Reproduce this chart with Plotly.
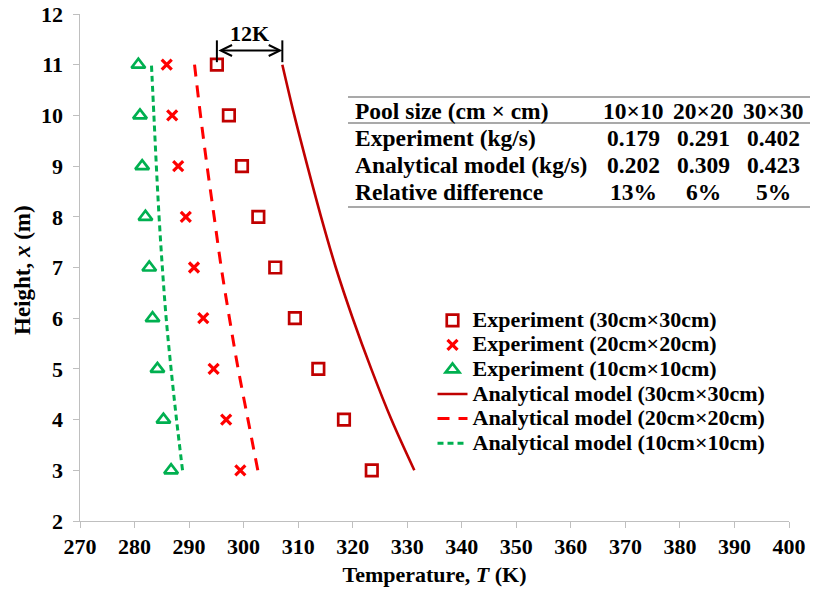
import plotly.graph_objects as go

# ---------------- data ----------------
heights = [3, 4, 5, 6, 7, 8, 9, 10, 11]
exp_30 = [323.5, 318.4, 313.7, 309.4, 305.8, 302.7, 299.7, 297.3, 295.1]
exp_20 = [299.4, 296.8, 294.5, 292.6, 290.9, 289.4, 288.0, 286.9, 285.9]
exp_10 = [286.7, 285.3, 284.2, 283.3, 282.7, 282.0, 281.4, 281.0, 280.7]
model_30 = [331.3, 327.1, 323.4, 320.0, 316.9, 314.2, 311.7, 309.3, 307.1]
model_20 = [302.6, 300.8, 299.0, 297.4, 295.9, 294.6, 293.3, 292.1, 291.0]
model_10 = [288.8, 287.7, 286.7, 285.8, 285.1, 284.5, 284.0, 283.55, 283.1]

x_ticks = list(range(270, 401, 10))
y_ticks = list(range(2, 13, 1))

table_header = ["Pool size (cm \u00d7 cm)", "10\u00d710", "20\u00d720", "30\u00d730"]
table_rows = [
    ["Experiment (kg/s)", "0.179", "0.291", "0.402"],
    ["Analytical model (kg/s)", "0.202", "0.309", "0.423"],
    ["Relative difference", "13%", "6%", "5%"],
]

DARK_RED = "#C00000"
RED = "#FF0000"
GREEN = "#00B050"
FONT = "Times New Roman, Liberation Serif, Tinos, serif"

# plot area in pixels
W, H = 813, 598
L, R, T, B = 80, 789, 14, 521


def px(xp):
    return (xp - L) / (R - L)


def py(yp):
    return (B - yp) / (B - T)


def legend_label(s):
    return '<span style="font-size:22px"><b>%s</b></span>' % s


fig = go.Figure()

fig.add_trace(go.Scatter(x=exp_30, y=heights, mode="markers", name=legend_label("Experiment (30cm\u00d730cm)"),
                         marker=dict(symbol="square-open", size=11.5, color=DARK_RED, line=dict(width=2.7, color=DARK_RED))))
fig.add_trace(go.Scatter(x=exp_20, y=heights, mode="markers", name=legend_label("Experiment (20cm\u00d720cm)"),
                         marker=dict(symbol="x-thin", size=10, color=RED, line=dict(width=3.2, color=RED))))
fig.add_trace(go.Scatter(x=exp_10, y=heights, mode="markers", name=legend_label("Experiment (10cm\u00d710cm)"),
                         marker=dict(symbol="triangle-up-open", size=12, color=GREEN, line=dict(width=2.7, color=GREEN))))
fig.add_trace(go.Scatter(x=model_30, y=heights, mode="lines", name=legend_label("Analytical model (30cm\u00d730cm)"),
                         line=dict(color=DARK_RED, width=2.6, shape="spline")))
fig.add_trace(go.Scatter(x=model_20, y=heights, mode="lines", name=legend_label("Analytical model (20cm\u00d720cm)"),
                         line=dict(color=RED, width=3, dash="12px,9px", shape="spline")))
fig.add_trace(go.Scatter(x=model_10, y=heights, mode="lines", name=legend_label("Analytical model (10cm\u00d710cm)"),
                         line=dict(color=GREEN, width=3, dash="6px,4px", shape="spline")))

shapes = []
annotations = []

# ---- 12K annotation (between the top experiment square and top model point) ----
x_left = exp_30[-1]
x_right = model_30[-1]
y_arrow = 11.28
for xv in (x_left, x_right):
    shapes.append(dict(type="line", xref="x", yref="y", x0=xv, x1=xv, y0=11.05, y1=11.48,
                       line=dict(color="black", width=2)))
annotations.append(dict(x=x_right, y=y_arrow, ax=x_left, ay=y_arrow, xref="x", yref="y",
                        axref="x", ayref="y", text="", showarrow=True, arrowhead=5, arrowside="end+start",
                        arrowsize=1.1, arrowwidth=2, arrowcolor="black", standoff=0, startstandoff=0))
annotations.append(dict(x=(x_left + x_right) / 2, y=11.62, xref="x", yref="y", text="<b>%dK</b>" % round(x_right - x_left),
                        showarrow=False, font=dict(family=FONT, size=22, color="black")))

# ---- table ----
tbl_left, tbl_right = 348, 810
for yp in (97, 123, 207):
    shapes.append(dict(type="line", xref="paper", yref="paper", x0=px(tbl_left), x1=px(tbl_right),
                       y0=py(yp), y1=py(yp), line=dict(color="#8C8C8C", width=1.5)))
row_y = [111, 138, 165, 192]
col_x = [633, 703, 773]
all_rows = [table_header] + table_rows
for r, row in enumerate(all_rows):
    annotations.append(dict(x=px(353), y=py(row_y[r]), xref="paper", yref="paper", text="<b>%s</b>" % row[0],
                            showarrow=False, xanchor="left", yanchor="middle",
                            font=dict(family=FONT, size=23.5, color="black")))
    for c in range(3):
        annotations.append(dict(x=px(col_x[c]), y=py(row_y[r]), xref="paper", yref="paper",
                                text="<b>%s</b>" % row[c + 1], showarrow=False, xanchor="center", yanchor="middle",
                                font=dict(family=FONT, size=23.5, color="black")))

# ---- y-axis title ----
annotations.append(dict(x=px(22), y=py(270), xref="paper", yref="paper", text="<b>Height, <i>x</i> (m)</b>",
                        textangle=-90, showarrow=False, xanchor="center", yanchor="middle",
                        font=dict(family=FONT, size=23, color="black")))

axis_common = dict(showgrid=False, zeroline=False, showline=True, linecolor="#BFBFBF", linewidth=1,
                   ticks="outside", tickcolor="#BFBFBF", ticklen=6, tickwidth=1, automargin=False,
                   tickfont=dict(family=FONT, size=22, color="black"), mirror=False)

fig.update_layout(
    width=W, height=H,
    margin=dict(l=L, r=W - R, t=T, b=H - B, autoexpand=False),
    paper_bgcolor="white", plot_bgcolor="white",
    font=dict(family=FONT, color="black"),
    xaxis=dict(range=[270, 400], tickvals=x_ticks, ticktext=["<b>%d</b>" % v for v in x_ticks],
               title=dict(text="<b>Temperature, <i>T</i> (K)</b>", font=dict(family=FONT, size=22), standoff=8),
               **axis_common),
    yaxis=dict(range=[2, 12], tickvals=y_ticks, ticktext=["<b>%d</b>\u00a0" % v for v in y_ticks],
               **axis_common),
    legend=dict(x=px(432.5), y=py(303), xanchor="left", yanchor="top", bgcolor="rgba(0,0,0,0)",
                font=dict(family=FONT, size=16.6, color="black"), itemwidth=30, tracegroupgap=0,
                traceorder="normal"),
    showlegend=True,
    shapes=shapes,
    annotations=annotations,
)

fig.write_html("out.html")
